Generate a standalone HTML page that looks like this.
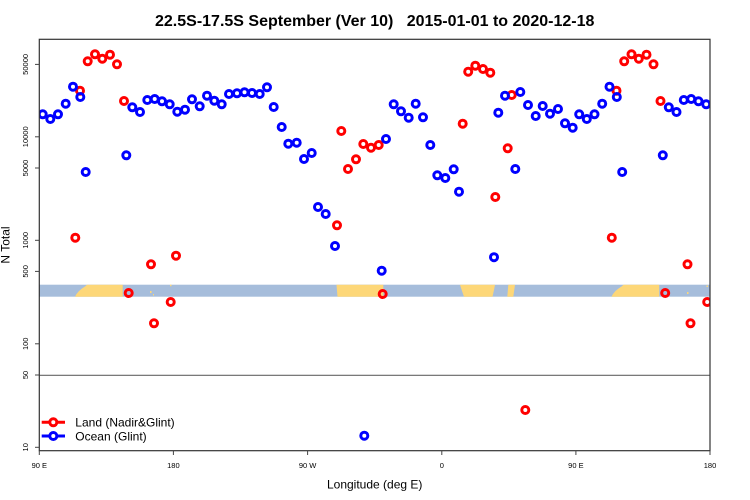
<!DOCTYPE html>
<html><head><meta charset="utf-8"><style>
html,body{margin:0;padding:0;background:#fff;}
svg{display:block;font-family:"Liberation Sans",Arial,sans-serif;}
</style></head><body>
<svg width="750" height="500" viewBox="0 0 750 500" xmlns="http://www.w3.org/2000/svg">
<defs><clipPath id="pc"><rect x="39.3" y="39.3" width="670.7" height="411.4"/></clipPath></defs>
<rect width="750" height="500" fill="#fff"/>
<text x="374.7" y="26" font-size="16" font-weight="bold" text-anchor="middle" fill="#000" xml:space="preserve">22.5S-17.5S September (Ver 10)   2015-01-01 to 2020-12-18</text>

<!-- band -->
<rect x="39.3" y="284.7" width="670.7" height="12" fill="#a6bddb"/>
<g fill="#fdd778">
<polygon points="87,284.7 122.7,284.7 122.7,296.7 75,296.7 76.5,294 79,291 82,288.5 85,286.5"/>
<polygon points="336.5,284.7 383.3,284.7 383.3,296.7 337.5,296.7"/>
<polygon points="460,284.7 495,284.7 494,290 492.5,296.7 464,296.7 462,291"/>
<polygon points="508.3,284.7 515,284.7 513.3,296.7 507.3,296.7"/>
<polygon points="623.5,284.7 659.2,284.7 659.2,296.7 611.5,296.7 613,294 615.5,291 618.5,288.5 621.5,286.5"/>
<rect x="150" y="291" width="1.5" height="2"/><rect x="153" y="294" width="1" height="1.5"/>
<rect x="170" y="284.7" width="1.5" height="1.5"/>
<rect x="687" y="292" width="1.5" height="2"/><rect x="706.5" y="285.5" width="1.5" height="1.5"/>
</g>

<!-- 50 line -->
<line x1="39.3" y1="375.3" x2="710" y2="375.3" stroke="#666" stroke-width="1.2"/>

<g clip-path="url(#pc)" fill="none" stroke-width="3">
<g stroke="#ff0000">
<circle cx="75.3" cy="237.7" r="3.5"/><circle cx="80" cy="90.7" r="3.5"/><circle cx="87.7" cy="61.3" r="3.5"/><circle cx="95" cy="54.3" r="3.5"/><circle cx="102.3" cy="58.7" r="3.5"/><circle cx="110" cy="54.7" r="3.5"/><circle cx="117" cy="64.3" r="3.5"/><circle cx="124" cy="101" r="3.5"/><circle cx="128.7" cy="293" r="3.5"/><circle cx="151" cy="264.3" r="3.5"/><circle cx="154" cy="323.3" r="3.5"/><circle cx="170.7" cy="302" r="3.5"/><circle cx="176" cy="255.7" r="3.5"/>
<circle cx="337" cy="225.3" r="3.5"/><circle cx="341.3" cy="131" r="3.5"/><circle cx="348" cy="169" r="3.5"/><circle cx="356" cy="159.3" r="3.5"/><circle cx="363.3" cy="144" r="3.5"/><circle cx="371" cy="147.7" r="3.5"/><circle cx="378.7" cy="145" r="3.5"/><circle cx="382.7" cy="294" r="3.5"/>
<circle cx="462.7" cy="123.7" r="3.5"/><circle cx="468.2" cy="71.7" r="3.5"/><circle cx="475.3" cy="65.7" r="3.5"/><circle cx="483" cy="69" r="3.5"/><circle cx="490.3" cy="72.7" r="3.5"/><circle cx="495.3" cy="197" r="3.5"/><circle cx="507.7" cy="148.3" r="3.5"/><circle cx="511.7" cy="95" r="3.5"/><circle cx="525.3" cy="410" r="3.5"/>
<circle cx="611.8" cy="237.7" r="3.5"/><circle cx="616.5" cy="90.7" r="3.5"/><circle cx="624.2" cy="61.3" r="3.5"/><circle cx="631.5" cy="54.3" r="3.5"/><circle cx="638.8" cy="58.7" r="3.5"/><circle cx="646.5" cy="54.7" r="3.5"/><circle cx="653.5" cy="64.3" r="3.5"/><circle cx="660.5" cy="101" r="3.5"/><circle cx="665.2" cy="293" r="3.5"/><circle cx="687.5" cy="264.3" r="3.5"/><circle cx="690.5" cy="323.3" r="3.5"/><circle cx="707.2" cy="302" r="3.5"/>
</g>
<g stroke="#0000ff">
<circle cx="42.7" cy="114.3" r="3.5"/><circle cx="50.3" cy="119" r="3.5"/><circle cx="58" cy="114.3" r="3.5"/><circle cx="65.7" cy="103.7" r="3.5"/><circle cx="73" cy="86.7" r="3.5"/><circle cx="80.3" cy="97" r="3.5"/><circle cx="85.7" cy="172" r="3.5"/>
<circle cx="126.3" cy="155.3" r="3.5"/><circle cx="132.3" cy="107.3" r="3.5"/><circle cx="140" cy="112" r="3.5"/><circle cx="147.3" cy="100" r="3.5"/><circle cx="154.7" cy="99" r="3.5"/><circle cx="162" cy="101.3" r="3.5"/><circle cx="169.7" cy="104.3" r="3.5"/><circle cx="177.3" cy="111.7" r="3.5"/><circle cx="185" cy="109.7" r="3.5"/><circle cx="192" cy="99.3" r="3.5"/><circle cx="199.7" cy="106.3" r="3.5"/><circle cx="207" cy="95.7" r="3.5"/><circle cx="214.3" cy="100.7" r="3.5"/><circle cx="221.7" cy="104.3" r="3.5"/><circle cx="229" cy="94" r="3.5"/><circle cx="237" cy="93.3" r="3.5"/><circle cx="244.5" cy="92.3" r="3.5"/><circle cx="252" cy="93" r="3.5"/><circle cx="259.7" cy="94" r="3.5"/><circle cx="267" cy="87.3" r="3.5"/><circle cx="273.7" cy="107" r="3.5"/><circle cx="281.7" cy="127" r="3.5"/><circle cx="288.3" cy="143.7" r="3.5"/><circle cx="296.7" cy="142.7" r="3.5"/><circle cx="304" cy="159" r="3.5"/><circle cx="311.7" cy="153" r="3.5"/><circle cx="318" cy="207" r="3.5"/><circle cx="325.7" cy="214" r="3.5"/><circle cx="335" cy="246" r="3.5"/>
<circle cx="364.3" cy="435.7" r="3.5"/><circle cx="381.7" cy="270.7" r="3.5"/><circle cx="386" cy="139" r="3.5"/><circle cx="393.7" cy="104.3" r="3.5"/><circle cx="401" cy="111.3" r="3.5"/><circle cx="408.7" cy="117.7" r="3.5"/><circle cx="415.7" cy="103.7" r="3.5"/><circle cx="423" cy="117.3" r="3.5"/><circle cx="430.3" cy="145" r="3.5"/><circle cx="437.3" cy="175.3" r="3.5"/><circle cx="445.3" cy="178" r="3.5"/><circle cx="453.7" cy="169.3" r="3.5"/><circle cx="459" cy="191.7" r="3.5"/>
<circle cx="494" cy="257.2" r="3.5"/><circle cx="498.3" cy="112.7" r="3.5"/><circle cx="505" cy="95.7" r="3.5"/><circle cx="515.3" cy="169" r="3.5"/><circle cx="520.3" cy="92" r="3.5"/><circle cx="528" cy="105" r="3.5"/><circle cx="535.7" cy="116" r="3.5"/><circle cx="542.7" cy="106" r="3.5"/><circle cx="550" cy="113.7" r="3.5"/><circle cx="558" cy="109" r="3.5"/><circle cx="565" cy="123.3" r="3.5"/><circle cx="572.7" cy="127.7" r="3.5"/>
<circle cx="579.2" cy="114.3" r="3.5"/><circle cx="586.8" cy="119" r="3.5"/><circle cx="594.5" cy="114.3" r="3.5"/><circle cx="602.2" cy="103.7" r="3.5"/><circle cx="609.5" cy="86.7" r="3.5"/><circle cx="616.8" cy="97" r="3.5"/><circle cx="622.2" cy="172" r="3.5"/><circle cx="662.8" cy="155.3" r="3.5"/><circle cx="668.8" cy="107.3" r="3.5"/><circle cx="676.5" cy="112" r="3.5"/><circle cx="683.8" cy="100" r="3.5"/><circle cx="691.2" cy="99" r="3.5"/><circle cx="698.5" cy="101.3" r="3.5"/><circle cx="706.2" cy="104.3" r="3.5"/>
</g>
</g>

<!-- box -->
<rect x="39.3" y="39.3" width="670.7" height="411.4" fill="none" stroke="#333" stroke-width="1.2"/>

<!-- y ticks -->
<g stroke="#444" stroke-width="1">
<line x1="35" y1="447.3" x2="39.3" y2="447.3"/><line x1="35" y1="375" x2="39.3" y2="375"/><line x1="35" y1="343.8" x2="39.3" y2="343.8"/><line x1="35" y1="271.4" x2="39.3" y2="271.4"/><line x1="35" y1="240.3" x2="39.3" y2="240.3"/><line x1="35" y1="168" x2="39.3" y2="168"/><line x1="35" y1="136.8" x2="39.3" y2="136.8"/><line x1="35" y1="64.4" x2="39.3" y2="64.4"/>
</g>
<g font-size="7.5" fill="#000" text-anchor="middle">
<text transform="translate(28,447.3) rotate(-90)">10</text>
<text transform="translate(28,375) rotate(-90)">50</text>
<text transform="translate(28,343.8) rotate(-90)">100</text>
<text transform="translate(28,271.4) rotate(-90)">500</text>
<text transform="translate(28,240.3) rotate(-90)">1000</text>
<text transform="translate(28,168) rotate(-90)">5000</text>
<text transform="translate(28,136.8) rotate(-90)">10000</text>
<text transform="translate(28,64.4) rotate(-90)">50000</text>
</g>
<text transform="translate(9.5,245) rotate(-90)" font-size="12" text-anchor="middle" fill="#000">N Total</text>

<!-- x ticks -->
<g stroke="#444" stroke-width="1">
<line x1="39.3" y1="450.7" x2="39.3" y2="455"/><line x1="173.4" y1="450.7" x2="173.4" y2="455"/><line x1="307.6" y1="450.7" x2="307.6" y2="455"/><line x1="441.8" y1="450.7" x2="441.8" y2="455"/><line x1="575.9" y1="450.7" x2="575.9" y2="455"/><line x1="710" y1="450.7" x2="710" y2="455"/>
</g>
<g font-size="7.5" fill="#000" text-anchor="middle">
<text x="39.3" y="467.8">90 E</text>
<text x="173.4" y="467.8">180</text>
<text x="307.6" y="467.8">90 W</text>
<text x="441.8" y="467.8">0</text>
<text x="575.9" y="467.8">90 E</text>
<text x="710" y="467.8">180</text>
</g>
<text x="374.7" y="488.5" font-size="12" text-anchor="middle" fill="#000">Longitude (deg E)</text>

<!-- legend -->
<line x1="41.7" y1="422.3" x2="65" y2="422.3" stroke="#ff0000" stroke-width="3"/>
<circle cx="53.3" cy="422.3" r="3.5" fill="#fff" stroke="#ff0000" stroke-width="3"/>
<text x="75.3" y="426.6" font-size="12" fill="#000">Land (Nadir&amp;Glint)</text>
<line x1="41.7" y1="436" x2="65" y2="436" stroke="#0000ff" stroke-width="3"/>
<circle cx="53.3" cy="436" r="3.5" fill="#fff" stroke="#0000ff" stroke-width="3"/>
<text x="75.3" y="440.3" font-size="12" fill="#000">Ocean (Glint)</text>
</svg>
</body></html>
